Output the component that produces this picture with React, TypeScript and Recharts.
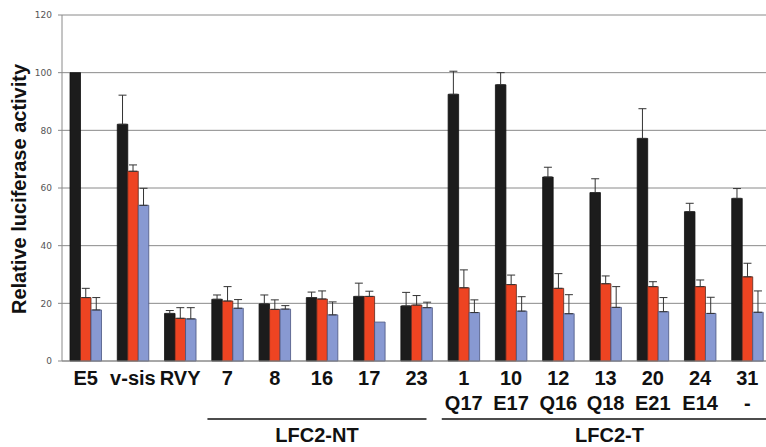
import React from 'react';
import { BarChart, Bar, XAxis, YAxis, CartesianGrid, ErrorBar } from 'recharts';

const categories = ['E5', 'v-sis', 'RVY', '7', '8', '16', '17', '23', '1', '10', '12', '13', '20', '24', '31'];
const subLabels = ['', '', '', '', '', '', '', '', 'Q17', 'E17', 'Q16', 'Q18', 'E21', 'E14', '-'];
const blackVals = [100, 82.1, 16.5, 21.4, 19.8, 22, 22.4, 19.1, 92.5, 95.8, 63.8, 58.4, 77.2, 51.8, 56.4];
const blackErr = [0, 10.1, 1.0, 1.5, 3.1, 1.9, 4.6, 4.7, 8, 4.2, 3.4, 4.8, 10.3, 2.9, 3.4];
const redVals = [22, 65.8, 14.8, 20.8, 17.9, 21.5, 22.4, 19.4, 25.4, 26.5, 25.2, 26.8, 25.8, 25.8, 29.2];
const redErr = [3.2, 2.2, 3.7, 5.0, 3.3, 2.8, 1.8, 3.3, 6.2, 3.3, 5.1, 2.7, 1.7, 2.3, 4.7];
const blueVals = [17.7, 54, 14.6, 18.3, 18, 16, 13.5, 18.5, 16.8, 17.3, 16.4, 18.6, 17.1, 16.5, 16.9];
const blueErr = [4.3, 5.9, 3.9, 3.0, 1.2, 4.5, 0, 1.9, 4.4, 5.0, 6.6, 7.2, 4.9, 5.6, 7.4];
const yTicks = [0, 20, 40, 60, 80, 100, 120];
const groups = [
  { label: 'LFC2-NT', from: 3, to: 7, startOff: -20, endOff: 10 },
  { label: 'LFC2-T', from: 8, to: 14, startOff: -22, endOff: 30 },
];

const data = categories.map((c, i) => ({
  name: c,
  sub: subLabels[i],
  black: blackVals[i],
  blackE: blackErr[i] ? [0, blackErr[i]] : 0,
  red: redVals[i],
  redE: redErr[i] ? [0, redErr[i]] : 0,
  blue: blueVals[i],
  blueE: blueErr[i] ? [0, blueErr[i]] : 0,
}));

const CHART_W = 771;
const CHART_H = 447;
const Y_W = 62;
const BAND = (CHART_W - Y_W) / categories.length;
const FONT = '"Liberation Sans", Arial, sans-serif';

const XTick = (props: any) => {
  const { x, y, payload, index } = props;
  const i = typeof index === 'number' ? index : categories.indexOf(payload.value);
  const g = groups.find((gr) => gr.from === i);
  return (
    <g>
      <text x={x} y={y + 24} textAnchor="middle" fontFamily={FONT} fontWeight="bold" fontSize={20} fill="#111">
        {payload.value}
      </text>
      {subLabels[i] ? (
        <text x={x} y={y + 49} textAnchor="middle" fontFamily={FONT} fontWeight="bold" fontSize={20} fill="#111">
          {subLabels[i]}
        </text>
      ) : null}
      {g ? (
        <g>
          <line
            x1={x + g.startOff}
            x2={x + (g.to - g.from) * BAND + g.endOff}
            y1={y + 58}
            y2={y + 58}
            stroke="#111"
            strokeWidth={1.5}
          />
          <text
            x={x + ((g.to - g.from) * BAND + g.endOff + g.startOff) / 2}
            y={y + 81}
            textAnchor="middle"
            fontFamily={FONT}
            fontWeight="bold"
            fontSize={20}
            fill="#111"
          >
            {g.label}
          </text>
        </g>
      ) : null}
    </g>
  );
};

export default function App() {
  return (
    <div style={{ position: 'absolute', left: 0, top: 0, width: 766, height: 447, overflow: 'hidden', background: '#fff' }}>
      <BarChart
        width={CHART_W}
        height={CHART_H}
        data={data}
        margin={{ top: 15, right: 0, left: 0, bottom: 0 }}
        barSize={10.5}
        barGap={0}
      >
        <CartesianGrid vertical={false} stroke="#8a8a8a" strokeWidth={1} />
        <YAxis
          width={Y_W}
          domain={[0, 120]}
          ticks={yTicks}
          interval={0}
          axisLine={{ stroke: '#8a8a8a' }}
          tickLine={{ stroke: '#8a8a8a' }}
          tickSize={4}
          tickMargin={6}
          tick={{ fontSize: 9, fill: '#555', fontFamily: '"DejaVu Sans", Verdana, sans-serif' }}
        />
        <XAxis
          dataKey="name"
          height={86}
          interval={0}
          axisLine={{ stroke: '#8a8a8a' }}
          tickLine={false}
          tickSize={0}
          tickMargin={0}
          tick={<XTick />}
        />
        <Bar dataKey="black" fill="#1c1c1c" stroke="#111" strokeWidth={0.8} isAnimationActive={false}>
          <ErrorBar dataKey="blackE" width={4} stroke="#333" strokeWidth={1} direction="y" />
        </Bar>
        <Bar dataKey="red" fill="#ee4422" stroke="#5a2a20" strokeWidth={0.8} isAnimationActive={false}>
          <ErrorBar dataKey="redE" width={4} stroke="#333" strokeWidth={1} direction="y" />
        </Bar>
        <Bar dataKey="blue" fill="#8899d2" stroke="#4a5580" strokeWidth={0.8} isAnimationActive={false}>
          <ErrorBar dataKey="blueE" width={4} stroke="#333" strokeWidth={1} direction="y" />
        </Bar>
      </BarChart>
      <svg width={40} height={447} style={{ position: 'absolute', left: 0, top: 0 }}>
        <text
          x={0}
          y={0}
          transform="translate(26,189) rotate(-90)"
          textAnchor="middle"
          fontFamily={FONT}
          fontWeight="bold"
          fontSize={20}
          fill="#111"
        >
          Relative luciferase activity
        </text>
      </svg>
    </div>
  );
}
